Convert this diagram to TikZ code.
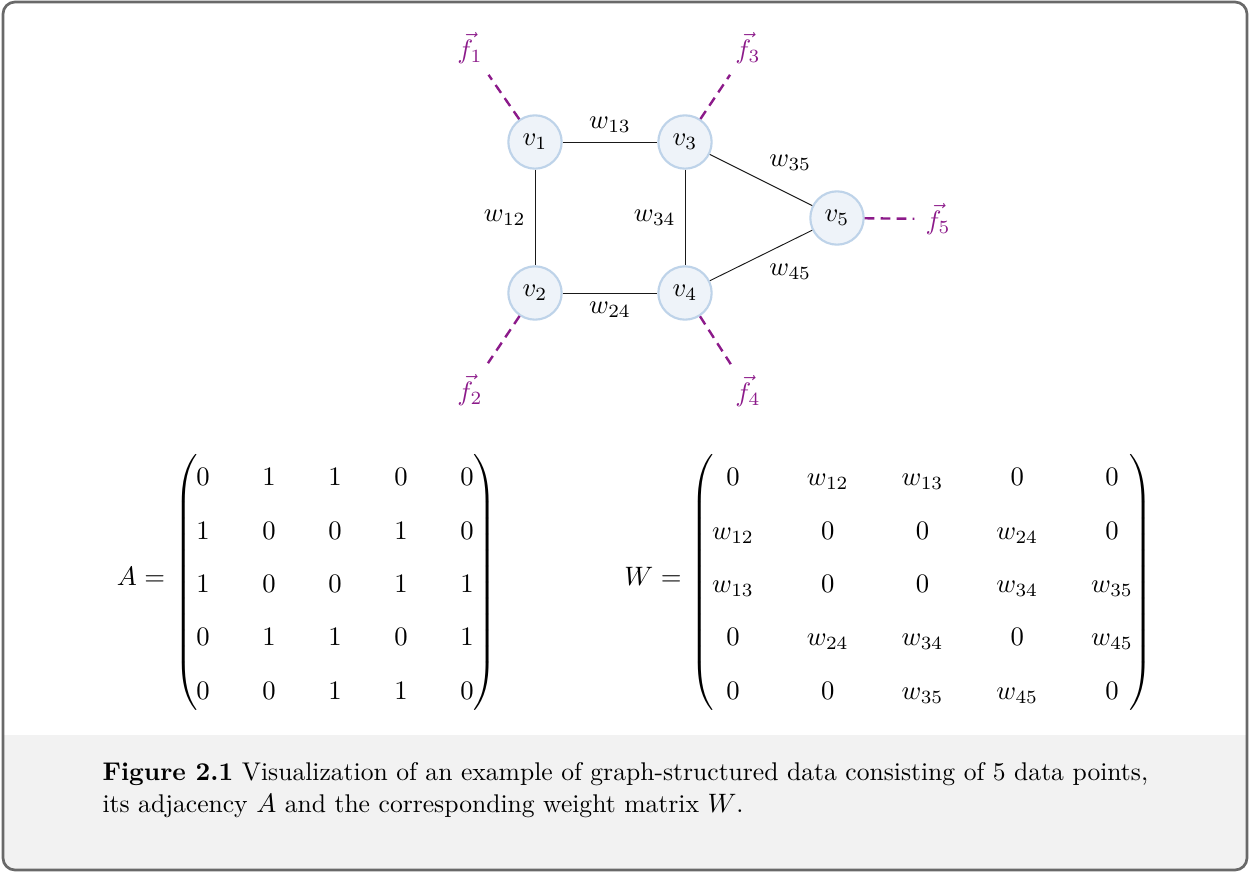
\documentclass[tikz,border=0pt]{standalone}
\usepackage{amsmath}
\definecolor{nodefill}{RGB}{238,243,249}
\definecolor{nodeborder}{RGB}{190,211,233}
\definecolor{fcol}{RGB}{140,26,138}
\definecolor{capbg}{RGB}{242,242,242}
\definecolor{framecol}{RGB}{105,105,105}
\newcommand{\bigparen}[1]{{\delimitershortfall=0pt\delimiterfactor=1000\nulldelimiterspace=0pt$#1$}}
\begin{document}
\begin{tikzpicture}[x=0.375pt,y=-0.375pt,
  vertex/.style={circle,draw=nodeborder,fill=nodefill,line width=0.8pt,minimum size=20pt,inner sep=0pt},
  feat/.style={text=fcol,inner sep=4pt},
  featline/.style={draw=fcol,dash pattern=on 3.6pt off 2.4pt,line width=0.9pt},
  edgeline/.style={draw=black!90,line width=0.35pt},
  entry/.style={anchor=base,inner sep=0pt},
  delim/.style={inner sep=0pt},
  captext/.style={anchor=base west,inner sep=0pt,font=\fontsize{9.6pt}{11.5pt}\selectfont}]
\useasboundingbox (0,0) rectangle (1250,873);
\path[fill=white, rounded corners=4.5pt] (3,2) rectangle (1247,870);
\begin{scope}
\clip[rounded corners=4.5pt] (3,2) rectangle (1247,870);
\fill[capbg] (3,735) rectangle (1247,870);
\end{scope}
\draw[framecol, line width=1pt, rounded corners=4.5pt] (3,2) rectangle (1247,870);

% graph
\node[vertex] (v1) at (535,142) {$v_1$};
\node[vertex] (v3) at (685,142) {$v_3$};
\node[vertex] (v2) at (535,293) {$v_2$};
\node[vertex] (v4) at (685,293) {$v_4$};
\node[vertex] (v5) at (837,218) {$v_5$};

\node[feat] (f1) at (470,48) {$\vec{f}_1$};
\node[feat] (f3) at (748,48) {$\vec{f}_3$};
\node[feat] (f2) at (470,390) {$\vec{f}_2$};
\node[feat] (f4) at (748,391) {$\vec{f}_4$};
\node[feat] (f5) at (938,219) {$\vec{f}_5$};

\draw[edgeline] (v1) -- node[above] {$w_{13}$} (v3);
\draw[edgeline] (v1) -- node[left] {$w_{12}$} (v2);
\draw[edgeline] (v2) -- node[below] {$w_{24}$} (v4);
\draw[edgeline] (v3) -- node[left] {$w_{34}$} (v4);
\draw[edgeline] (v3) -- node[midway,xshift=11pt,yshift=6.5pt] {$w_{35}$} (v5);
\draw[edgeline] (v4) -- node[midway,xshift=11pt,yshift=-6.2pt] {$w_{45}$} (v5);

\draw[featline] (v1) -- (f1);
\draw[featline] (v3) -- (f3);
\draw[featline] (v2) -- (f2);
\draw[featline] (v4) -- (f4);
\draw[featline] (v5) -- (f5);

% matrix A
\node[anchor=base,inner sep=0pt] (Alab) at (141,585) {$A =$};
\foreach \row [count=\i] in {{0,1,1,0,0},{1,0,0,1,0},{1,0,0,1,1},{0,1,1,0,1},{0,0,1,1,0}}{
  \foreach \e [count=\j] in \row {
    \node[entry] (a\i\j) at ({203+66*(\j-1)},{486+53.3*(\i-1)}) {$\e$};
  }
}
\node[delim] (Al) at (186,582.5) {\bigparen{\left(\vrule height 50.3pt depth 45.3pt width 0pt\right.}};
\node[delim] (Ar) at (485,582.5) {\bigparen{\left.\vrule height 50.3pt depth 45.3pt width 0pt\right)}};

% matrix W
\node[anchor=base,inner sep=0pt] (Wlab) at (653,585) {$W =$};
\foreach \row [count=\i] in {{0,w_{12},w_{13},0,0},{w_{12},0,0,w_{24},0},{w_{13},0,0,w_{34},w_{35}},{0,w_{24},w_{34},0,w_{45}},{0,0,w_{35},w_{45},0}}{
  \foreach \e [count=\j] in \row {
    \node[entry] (w\i\j) at ({733+94.75*(\j-1)},{486+53.3*(\i-1)}) {$\e$};
  }
}
\node[delim] (Wl) at (702,582.5) {\bigparen{\left(\vrule height 50.3pt depth 45.3pt width 0pt\right.}};
\node[delim] (Wr) at (1141,582.5) {\bigparen{\left.\vrule height 50.3pt depth 45.3pt width 0pt\right)}};

% caption
\node[captext] (cap1) at (102,780) {\textbf{Figure 2.1} Visualization of an example of graph-structured data consisting of 5 data points,};
\node[captext] (cap2) at (102,812) {its adjacency $A$ and the corresponding weight matrix $W$.};
\end{tikzpicture}
\end{document}
